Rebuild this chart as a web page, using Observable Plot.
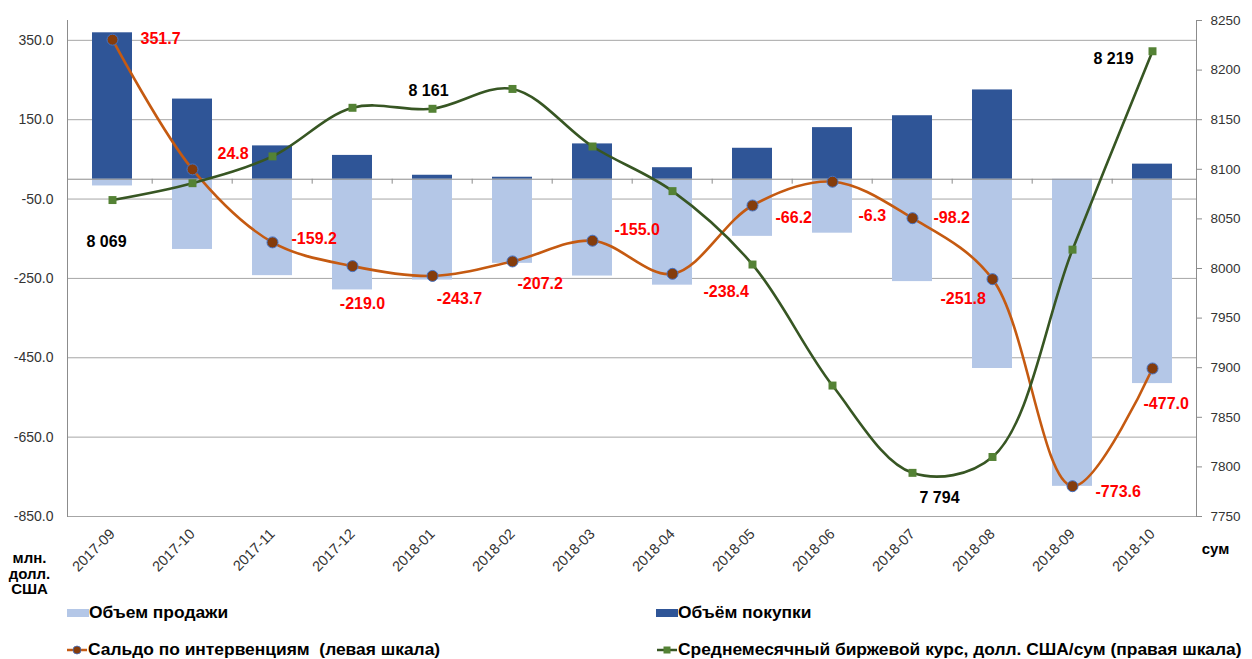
<!DOCTYPE html>
<html><head><meta charset="utf-8">
<script src="https://cdn.jsdelivr.net/npm/d3@7"></script>
<script src="https://cdn.jsdelivr.net/npm/@observablehq/plot@0.6"></script>
<style>
body{margin:0;background:#fff;font-family:"Liberation Sans",Arial,sans-serif;}
#chart{position:relative;width:1252px;height:659px;overflow:hidden;}
#chart > svg{position:absolute;left:0;top:0;}
#chart .lg{position:absolute;display:flex;align-items:center;font-weight:bold;font-size:17.4px;color:#000;white-space:pre;line-height:1;}
#chart .lg svg{position:static;margin-right:0px;flex:none;}
</style></head><body><div id="chart"></div>
<script>
// ---- data ----
const months = ["2017-09","2017-10","2017-11","2017-12","2018-01","2018-02","2018-03","2018-04","2018-05","2018-06","2018-07","2018-08","2018-09","2018-10"];
const purchases = [369, 202, 84, 60, 10, 5, 89, 29, 78, 130, 160, 225, 0, 38];
const sales = [-17, -177, -243, -279, -254, -212, -244, -267, -144, -136, -258, -477, -774, -515];
const balance = [351.7, 24.8, -159.2, -219.0, -243.7, -207.2, -155.0, -238.4, -66.2, -6.3, -98.2, -251.8, -773.6, -477.0];
const rate = [8069, 8086, 8113, 8162, 8161, 8181, 8123, 8078, 8004, 7882, 7794, 7810, 8019, 8219];
const rateLabelIdx = [0, 4, 10, 13];
const leftTicks = [350, 150, -50, -250, -450, -650, -850];
const rightTicks = [7750, 7800, 7850, 7900, 7950, 8000, 8050, 8100, 8150, 8200, 8250];
const legendNames = ["Объем продажи", "Объём покупки", "Сальдо по интервенциям  (левая шкала)", "Среднемесячный биржевой курс, долл. США/сум (правая шкала)"];
const leftUnit = "млн.\nдолл.\nСША";
const rightUnit = "сум";

// ---- layout / style ----
const W = 1252, H = 595, mL = 67, mR = 56, mT = 20, mB = 79;
const leftDomain = [-850, 400], rightDomain = [7750, 8250];
const toLeft = r => leftDomain[0] + (r - rightDomain[0]) * (leftDomain[1] - leftDomain[0]) / (rightDomain[1] - rightDomain[0]);
const step = (W - mL - mR) / months.length;
const C = {sale:"#b4c7e7", buy:"#2f5597", bal:"#c55a11", balDot:"#843c0c", balDotStroke:"#4472c4", rate:"#375623", rateDot:"#548235", grid:"#a6a6a6", axis:"#8c8c8c"};
// label offsets [dx, dy, anchor]
const balPos = [[28,-1,"start"],[25,-16,"start"],[19,-4,"start"],[10,38,"middle"],[27,23,"middle"],[5,22,"start"],[22,-11,"start"],[31,18,"start"],[23,12,"start"],[26,34,"start"],[21,0,"start"],[-52,20,"start"],[23,6,"start"],[-9,35,"start"]];
const ratePos = {0:[-6,42], 4:[-4,-18], 10:[27,25], 13:[-39,8]};

const rows = months.map((m, i) => ({m, buy: purchases[i], sale: sales[i], bal: balance[i], rate: rate[i], rateL: toLeft(rate[i]), i}));
const fmtRate = d => String(d).replace(/\B(?=(\d{3})+$)/, " ");

const marks = [
  Plot.gridY(leftTicks, {stroke: C.grid, strokeOpacity: 1, strokeWidth: 1}),
  Plot.barY(rows, {x: "m", y: "sale", fill: C.sale}),
  Plot.barY(rows, {x: "m", y: "buy", fill: C.buy}),
  Plot.ruleY([0], {stroke: C.axis, strokeWidth: 1}),
  Plot.ruleX(months.slice(1), {x: d => d, y1: 0, y2: -12.5, dx: -step / 2, stroke: C.axis}),
  Plot.frame({anchor: "left", stroke: C.axis}),
  Plot.frame({anchor: "right", stroke: C.axis}),
  Plot.axisY(leftTicks, {anchor: "left", tickSize: 0, tickPadding: 14, tickFormat: d => d.toFixed(1), fontSize: 14, fill: "#333"}),
  Plot.axisY(rightTicks.map(toLeft), {anchor: "right", tickSize: 5, tickPadding: 9, stroke: C.axis, tickFormat: (d, i) => String(rightTicks[i]), fontSize: 13.5, fill: "#333"}),
  Plot.axisX({tickRotate: -45, tickSize: 0, tickPadding: 15, fontSize: 14.5, fill: "#333"}),
  Plot.line(rows, {x: "m", y: "bal", stroke: C.bal, strokeWidth: 2.6, curve: "catmull-rom"}),
  Plot.line(rows, {x: "m", y: "rateL", stroke: C.rate, strokeWidth: 2.6, curve: "catmull-rom"}),
  Plot.dot(rows, {x: "m", y: "bal", r: 5.5, fill: C.balDot, stroke: C.balDotStroke, strokeWidth: 1}),
  Plot.dot(rows, {x: "m", y: "rateL", r: 4.5, symbol: "square", fill: C.rateDot}),
  ...rows.map((d, i) => Plot.text([d], {x: "m", y: "bal", text: r => r.bal.toFixed(1), dx: balPos[i][0], dy: balPos[i][1], textAnchor: balPos[i][2], fill: "#ff0000", fontWeight: "bold", fontSize: 16})),
  ...rateLabelIdx.map(i => Plot.text([rows[i]], {x: "m", y: "rateL", text: r => fmtRate(r.rate), dx: ratePos[i][0], dy: ratePos[i][1], textAnchor: "middle", fill: "#000", fontWeight: "bold", fontSize: 16})),
  Plot.text([leftUnit], {frameAnchor: "bottom-left", dx: -38, dy: 57, textAnchor: "middle", lineAnchor: "middle", lineHeight: 1.05, fontWeight: "bold", fontSize: 15, fill: "#000"}),
  Plot.text([rightUnit], {frameAnchor: "bottom-right", dx: 19, dy: 37, textAnchor: "middle", fontWeight: "bold", fontSize: 15, fill: "#000"})
];

const chart = Plot.plot({
  width: W, height: H, marginLeft: mL, marginRight: mR, marginTop: mT, marginBottom: mB,
  style: {fontFamily: '"Liberation Sans", Arial, sans-serif', background: "#fff", overflow: "visible"},
  x: {type: "band", domain: months, paddingInner: 0.5, paddingOuter: 0.25, label: null},
  y: {domain: leftDomain, label: null},
  marks
});
const root = document.getElementById("chart");
root.appendChild(chart);

// ---- legend ----
function swatchRect(color) {
  return `<svg width="22" height="8"><rect width="22" height="8" fill="${color}"/></svg>`;
}
function swatchLine(color, marker) {
  const m = marker === "circle"
    ? `<circle cx="11" cy="6" r="4" fill="${C.balDot}" stroke="${C.balDotStroke}" stroke-width="0.8"/>`
    : `<rect x="7.5" y="2.5" width="7" height="7" fill="${C.rateDot}"/>`;
  return `<svg width="22" height="12"><line x1="1" x2="21" y1="6" y2="6" stroke="${color}" stroke-width="2.5"/>${m}</svg>`;
}
const items = [
  {x: 67, y: 613, sw: swatchRect(C.sale), t: legendNames[0]},
  {x: 656, y: 613, sw: swatchRect(C.buy), t: legendNames[1]},
  {x: 66, y: 650, sw: swatchLine(C.bal, "circle"), t: legendNames[2]},
  {x: 656, y: 650, sw: swatchLine(C.rate, "square"), t: legendNames[3]}
];
for (const it of items) {
  const div = document.createElement("div");
  div.className = "lg";
  div.style.left = it.x + "px";
  div.style.top = (it.y - 10) + "px";
  div.style.height = "20px";
  div.innerHTML = it.sw + `<span>${it.t}</span>`;
  root.appendChild(div);
}
</script>
</body></html>
